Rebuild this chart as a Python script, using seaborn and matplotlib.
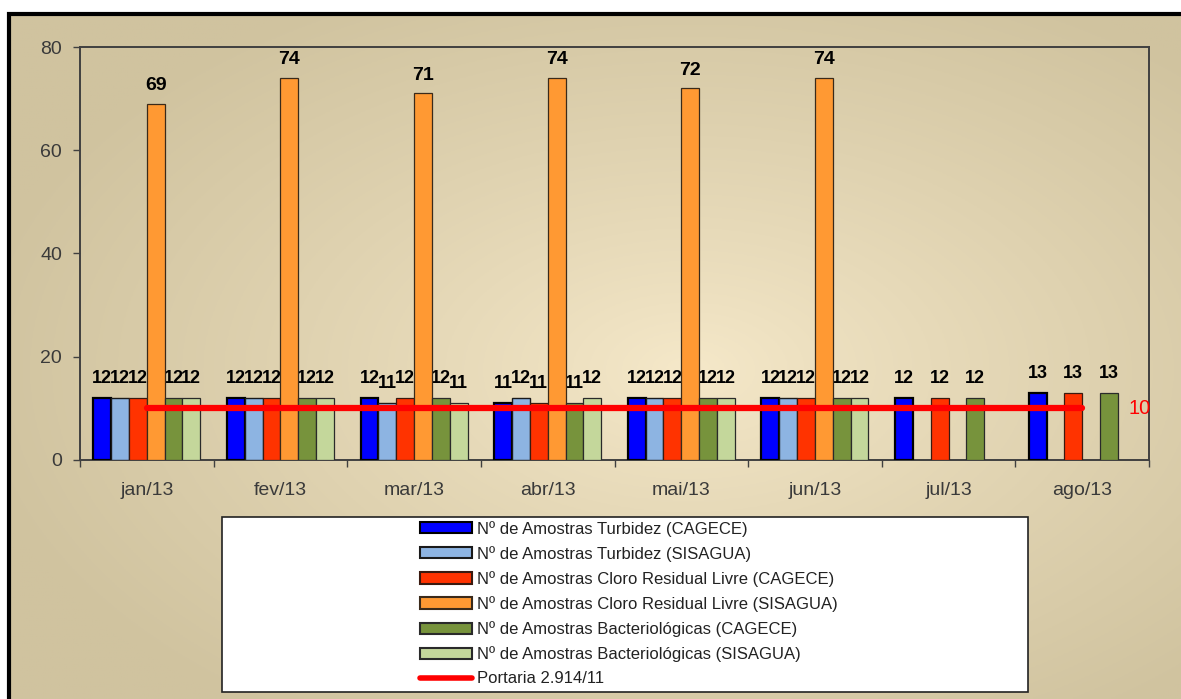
import matplotlib.pyplot as plt
import numpy as np
import pandas as pd
import seaborn as sns
from matplotlib.colors import to_hex
from matplotlib.lines import Line2D
from matplotlib.patches import Rectangle

months = ["jan/13", "fev/13", "mar/13", "abr/13", "mai/13", "jun/13", "jul/13", "ago/13"]

series_names = [
    "Nº de Amostras Turbidez (CAGECE)",
    "Nº de Amostras Turbidez (SISAGUA)",
    "Nº de Amostras Cloro Residual Livre (CAGECE)",
    "Nº de Amostras Cloro Residual Livre (SISAGUA)",
    "Nº de Amostras Bacteriológicas (CAGECE)",
    "Nº de Amostras Bacteriológicas (SISAGUA)",
]
turbidez_cagece = [12, 12, 12, 11, 12, 12, 12, 13]
turbidez_sisagua = [12, 12, 11, 12, 12, 12, np.nan, np.nan]
cloro_cagece = [12, 12, 12, 11, 12, 12, 12, 13]
cloro_sisagua = [69, 74, 71, 74, 72, 74, np.nan, np.nan]
bacter_cagece = [12, 12, 12, 11, 12, 12, 12, 13]
bacter_sisagua = [12, 12, 11, 12, 12, 12, np.nan, np.nan]

portaria_label = "Portaria 2.914/11"
portaria = [10, 10, 10, 10, 10, 10, 10, 10]

colors = ["#0000ff", "#8db4e2", "#ff3300", "#ff9933", "#77933c", "#c4d79b"]
edges = ["#000000", "#1a1a1a", "#3a1a10", "#3a2a1a", "#2a2a2a", "#2a2a2a"]
edge_lw = [1.6, 1.0, 0.9, 0.9, 0.9, 0.9]

values = [turbidez_cagece, turbidez_sisagua, cloro_cagece, cloro_sisagua, bacter_cagece, bacter_sisagua]
df = pd.DataFrame(
    [(m, s, v) for s, vals in zip(series_names, values) for m, v in zip(months, vals)],
    columns=["mes", "serie", "valor"],
).dropna()

sns.set_style("white")
plt.rcParams["font.family"] = ["Liberation Sans", "DejaVu Sans"]

W, H = 1181, 699
fig = plt.figure(figsize=(W / 100, H / 100), dpi=100, facecolor="white")

# background gradient inside the black frame
bg = fig.add_axes([9 / W, 0, 1 - 9 / W, 1 - 14 / H], zorder=-2)
yy, xx = np.mgrid[0:1:300j, 0:1:500j]
r = np.clip(np.sqrt(((xx - 0.58) / 0.62) ** 2 + ((yy - 0.52) / 0.62) ** 2), 0, 1)
c0 = np.array([246, 233, 202]) / 255
c1 = np.array([208, 195, 159]) / 255
img = c0 + (c1 - c0) * r[..., None] ** 0.85
bg.imshow(img, aspect="auto", extent=[0, 1, 1, 0])
bg.set_axis_off()
fig.patches.append(Rectangle((9 / W, -0.05), 1.2, 1 - 14 / H + 0.05, transform=fig.transFigure,
                             fill=False, edgecolor="black", linewidth=3, zorder=5))

ax = fig.add_axes([80 / W, 1 - 460 / H, (1149 - 80) / W, (460 - 47) / H])
ax.set_facecolor("none")

sns.barplot(data=df, x="mes", y="valor", hue="serie", order=months, hue_order=series_names,
            palette=colors, saturation=1, width=0.8, legend=False, ax=ax, zorder=3)

for cont in ax.containers:
    i = colors.index(to_hex(cont[0].get_facecolor()))
    for p in cont:
        p.set_edgecolor(edges[i])
        p.set_linewidth(edge_lw[i])
        p.set_zorder(3)
    big = i == 3
    labels = ax.bar_label(cont, fmt="%d", padding=7 if big else 8, fontsize=14 if big else 13,
                          fontweight="bold", color="black")
    for t in labels:
        t.set_zorder(2)

sns.lineplot(x=np.arange(len(months)), y=portaria, color="#FF0000", linewidth=4.5, ax=ax, zorder=4)
ax.annotate(str(portaria[-1]), xy=(len(months) - 1, portaria[-1]), xytext=(33, 0),
            textcoords="offset points", va="center", ha="left", color="#FF0000", fontsize=14.5)

ax.set_xlim(-0.5, len(months) - 0.5)
ax.set_ylim(0, 80)
ax.set_yticks([0, 20, 40, 60, 80])
ax.set_xticks(range(len(months)), months)
ax.set_xticks(np.arange(-0.5, len(months)), minor=True)
ax.set_xlabel("")
ax.set_ylabel("")
ax.tick_params(axis="y", direction="out", length=5, width=1, color="#404040", pad=8,
               labelsize=14, labelcolor="#3a3a3a", left=True)
ax.tick_params(axis="x", which="major", length=0, pad=16, labelsize=14, labelcolor="#3a3a3a")
ax.tick_params(axis="x", which="minor", direction="out", length=5, width=1, color="#404040", bottom=True)
for s in ax.spines.values():
    s.set_visible(True)
    s.set_color("#404040")
    s.set_linewidth(1.4)

# legend box
fig.patches.append(Rectangle((222 / W, 1 - 692 / H), 806 / W, 175 / H, transform=fig.transFigure,
                             facecolor="white", edgecolor="#222222", linewidth=1.2, zorder=1))
handles = [Rectangle((0, 0), 1, 1, facecolor=c, edgecolor=e, linewidth=1.5) for c, e in zip(colors, edges)]
handles.append(Line2D([0], [0], color="#FF0000", linewidth=4))
leg = fig.legend(handles, series_names + [portaria_label], loc="center",
                 bbox_to_anchor=(629 / W, 1 - 603.5 / H), frameon=False, fontsize=12,
                 handlelength=3.1, handleheight=0.65, handletextpad=0.3, labelspacing=0.55)
leg.set_zorder(6)
for t in leg.get_texts():
    t.set_color("#222222")

fig.savefig("out.png", dpi=100, facecolor="white")
